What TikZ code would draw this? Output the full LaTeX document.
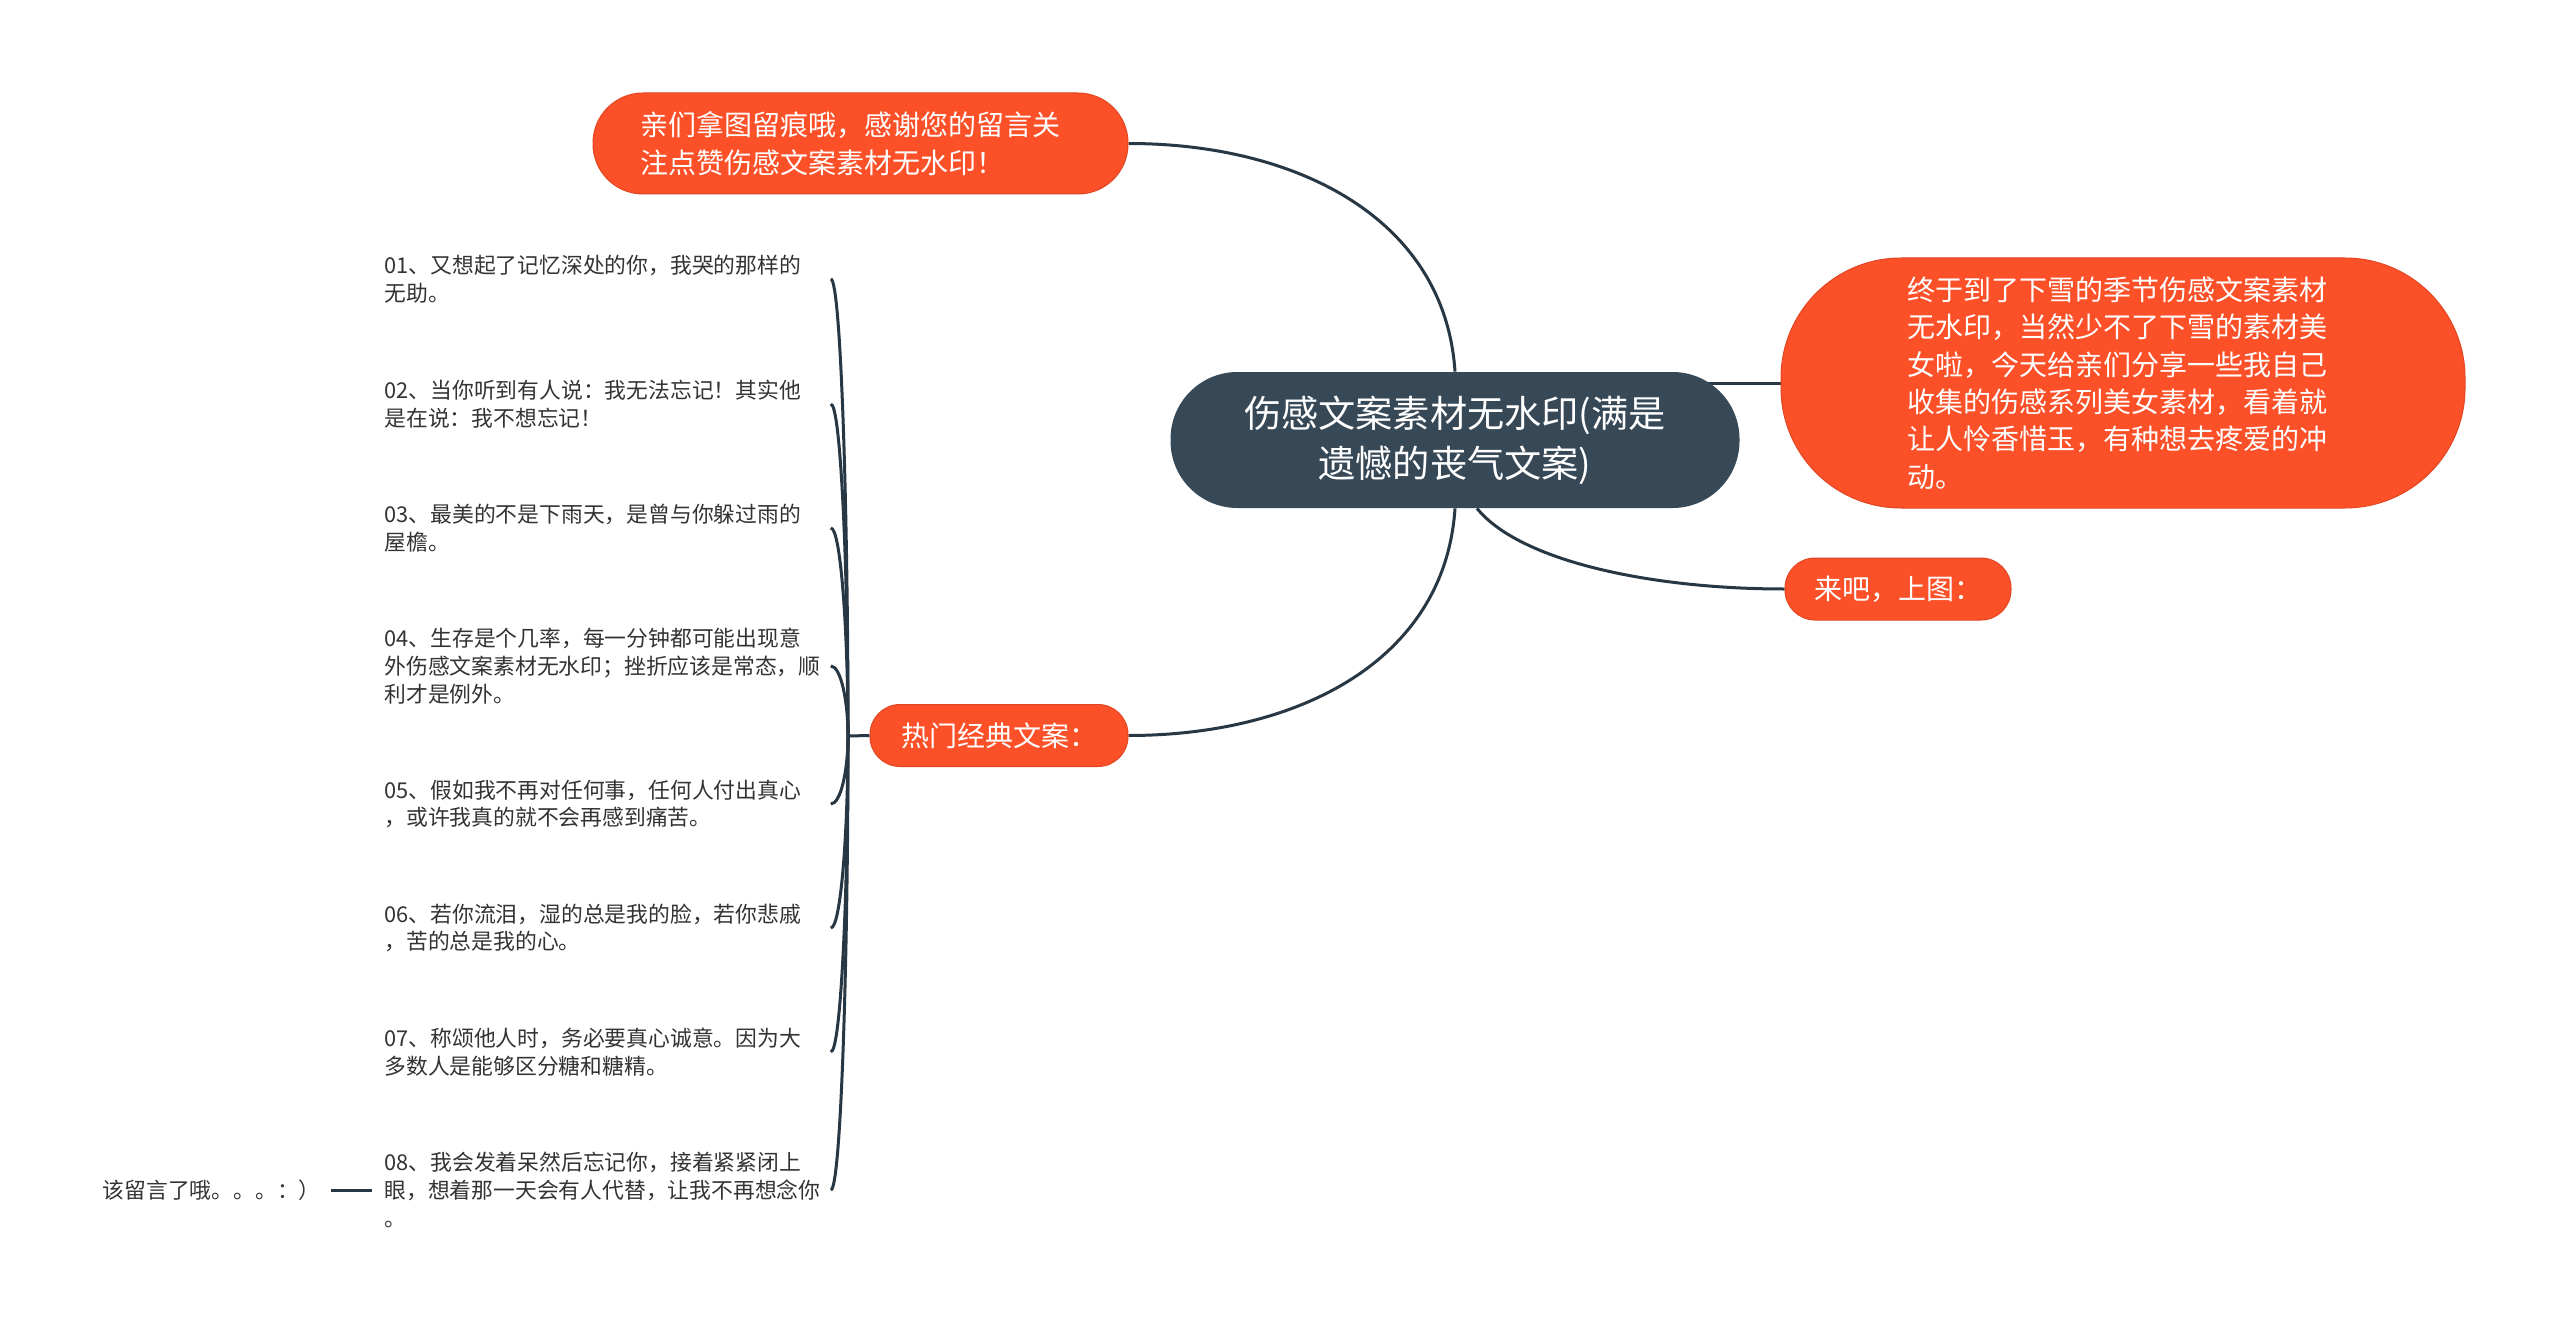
\documentclass[tikz,border=0pt]{standalone}
\usepackage{fontspec}
\setmainfont{Noto Sans CJK SC}
\usepackage{xcolor}
\usepackage{tikz}
\usetikzlibrary{positioning, calc, backgrounds}
\definecolor{rootSlate}{RGB}{55, 72, 87}
\definecolor{topicOrange}{RGB}{252, 80, 40}
\definecolor{topicRim}{RGB}{226, 70, 35}
\definecolor{edgeSlate}{RGB}{40, 55, 68}
\definecolor{leafInk}{RGB}{51, 51, 51}

\begin{document}
\begin{tikzpicture}[
        x=0.5pt, y=-0.5pt,
        font=\fontsize{10.9pt}{13.9pt}\selectfont,
        root/.style={rectangle, rounded corners=33.5pt, fill=rootSlate, text=white, align=center,
            font=\fontsize{18.6pt}{25pt}\selectfont, minimum width=284.5pt, minimum height=68pt},
        topic/.style={rectangle, rounded corners=15pt, draw=topicRim, line width=0.5pt, fill=topicOrange,
            text=white, inner sep=0pt, font=\fontsize{14pt}{18.7pt}\selectfont},
        leaf/.style={anchor=west, text width=223pt, align=left, inner sep=0pt, text=leafInk},
        edge/.style={draw=edgeSlate, line width=1.5pt}
    ]
    \useasboundingbox (0,0) rectangle (2560,1337);
    \node[root] (cent) at (1455,440) {伤感文案素材无水印(满是\\遗憾的丧气文案)};
    \node[topic, rounded corners=25pt, minimum width=267.5pt, minimum height=50.5pt, text width=220pt, align=left] (tl) at (860.5,143.5)
        {亲们拿图留痕哦，感谢您的留言关\\注点赞伤感文案素材无水印！};
    \node[topic, rounded corners=60pt, minimum width=342pt, minimum height=125pt, text width=216pt, align=left] (rbig) at (2123,383)
        {终于到了下雪的季节伤感文案素材\\无水印，当然少不了下雪的素材美\\女啦，今天给亲们分享一些我自己\\收集的伤感系列美女素材，看着就\\让人怜香惜玉，有种想去疼爱的冲\\动。};
    \node[topic, minimum width=113pt, minimum height=31pt] (come) at (1898,589) {来吧，上图：};
    \node[topic, minimum width=129pt, minimum height=31pt] (hot) at (999,735.5) {热门经典文案：};
    \coordinate (hub) at (848,736);
    % leaves
    \node[leaf] (l1) at (384,279)  {01、又想起了记忆深处的你，我哭的那样的\\无助。};
    \node[leaf] (l2) at (384,404)  {02、当你听到有人说：我无法忘记！其实他\\是在说：我不想忘记！};
    \node[leaf] (l3) at (384,528)  {03、最美的不是下雨天，是曾与你躲过雨的\\屋檐。};
    \node[leaf] (l4) at (384,666)  {04、生存是个几率，每一分钟都可能出现意\\外伤感文案素材无水印；挫折应该是常态，顺\\利才是例外。};
    \node[leaf] (l5) at (384,804)  {05、假如我不再对任何事，任何人付出真心\\，或许我真的就不会再感到痛苦。};
    \node[leaf] (l6) at (384,928)  {06、若你流泪，湿的总是我的脸，若你悲戚\\，苦的总是我的心。};
    \node[leaf] (l7) at (384,1052) {07、称颂他人时，务必要真心诚意。因为大\\多数人是能够区分糖和糖精。};
    \node[leaf] (l8) at (384,1190) {08、我会发着呆然后忘记你，接着紧紧闭上\\眼，想着那一天会有人代替，让我不再想念你\\。};
    \node[anchor=east, inner sep=0pt, text=leafInk] (note) at (321,1190) {该留言了哦。。。：）};
    \begin{scope}[on background layer]
        \fill[white] (0,0) rectangle (2560,1337);
        \draw[edge] (cent.north) .. controls +(-10,-152) and +(170,0) .. (tl.east);
        \draw[edge] (cent.south) .. controls +(-10,152) and +(170,0) .. (hot.east);
        \draw[edge] ([xshift=-30pt]cent.east |- rbig.west) -- (rbig.west);
        \draw[edge] ([xshift=11pt]cent.south) .. controls +(43,53) and +(-133,0) .. (come.west);
        \draw[edge] (hot.west) -- (hub);
        \foreach \i in {1,...,8}
            \draw[edge] (l\i.east) .. controls +(10,0) and ($(hub)!0.5!(hub |- l\i.east)$) .. (hub);
        \draw[edge] ([xshift=-6pt]l8.west) -- ([xshift=5pt]note.east);
    \end{scope}
\end{tikzpicture}
\end{document}
